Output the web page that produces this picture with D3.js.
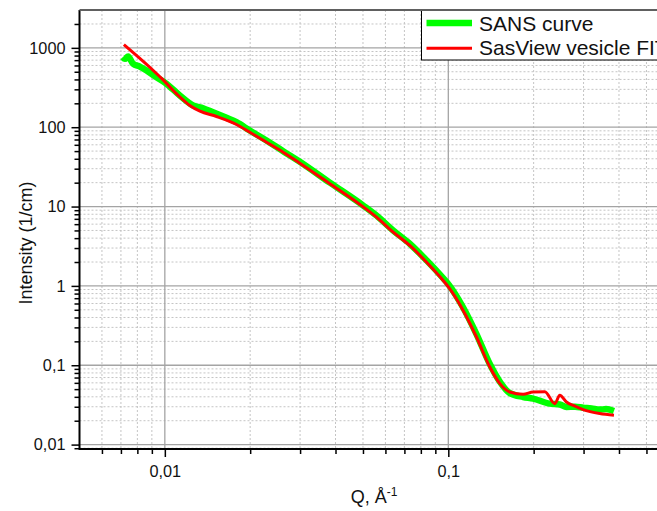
<!DOCTYPE html>
<html>
<head>
<meta charset="utf-8">
<script src="https://cdn.jsdelivr.net/npm/d3@7"></script>
<style>
  html, body { margin: 0; padding: 0; background: #fff; }
  svg { display: block; font-family: Arial, "Liberation Sans", sans-serif; }
</style>
</head>
<body>
<svg id="chart" width="657" height="511"></svg>
<script>
// ---- data ----
const sansQ = [0.0071, 0.00723, 0.00742, 0.00773, 0.00816, 0.00862, 0.00935, 0.01014, 0.01129, 0.01258, 0.01365, 0.0148, 0.01651, 0.0179, 0.01994, 0.02284, 0.02614, 0.02994, 0.0382, 0.0501, 0.0558, 0.0639, 0.0731, 0.0838, 0.0959, 0.1005, 0.1128, 0.1257, 0.1401, 0.152, 0.1648, 0.1836, 0.199, 0.2278, 0.2473, 0.261, 0.28, 0.299, 0.32, 0.342, 0.36, 0.384];
const sansI = [760, 727, 777, 629, 581, 518, 426, 352, 251, 187.7, 173.5, 154.5, 131.3, 115.6, 90.8, 68, 49.9, 36.7, 20, 10.3, 7.7, 5.0, 3.4, 2.1, 1.25, 1.03, 0.535, 0.247, 0.1034, 0.062, 0.0445, 0.0398, 0.038, 0.0328, 0.032, 0.0298, 0.030, 0.0292, 0.0285, 0.0276, 0.028, 0.0265];

const fitQ = [0.00717, 0.00885, 0.00986, 0.0110, 0.01225, 0.0133, 0.01522, 0.0179, 0.01994, 0.02284, 0.02614, 0.02994, 0.0382, 0.0501, 0.0558, 0.0639, 0.0731, 0.0838, 0.0959, 0.1005, 0.1128, 0.1257, 0.1401, 0.152, 0.1648, 0.1836, 0.199, 0.219, 0.2375, 0.2473, 0.261, 0.28, 0.299, 0.342, 0.384];
const fitI = [1101, 570, 395, 263, 187.7, 159, 136.4, 108.1, 86.5, 64.7, 48.4, 35.2, 19.4, 9.9, 7.35, 4.76, 3.24, 1.99, 1.17, 0.95, 0.491, 0.227, 0.0949, 0.0586, 0.046, 0.043, 0.046, 0.0465, 0.0328, 0.0418, 0.0344, 0.0305, 0.0276, 0.0246, 0.0234];

const seriesNames = ["SANS curve", "SasView vesicle FIT"];
const xTickValues = [0.01, 0.1];
const xTickLabels = ["0,01", "0,1"];
const yTickValues = [0.01, 0.1, 1, 10, 100, 1000];
const yTickLabels = ["0,01", "0,1", "1", "10", "100", "1000"];
const xTitle = "Q, Å";
const xTitleSup = "-1";
const yTitle = "Intensity (1/cm)";

// ---- layout ----
const svg = d3.select("#chart");
const pLeft = 79.5, pRight = 668.9, pTop = 10, pBottom = 449;

const x = d3.scaleLog().domain([0.005, 0.6]).range([pLeft, pRight]);
const y = d3.scaleLog().domain([0.0088, 3000]).range([pBottom, pTop]);

// minor tick values
function minors(lo, hi) {
  const out = [];
  for (let d = Math.floor(Math.log10(lo)); d <= Math.ceil(Math.log10(hi)); d++) {
    for (let m = 2; m <= 9; m++) {
      const v = m * Math.pow(10, d);
      if (v > lo * 1.0001 && v < hi * 0.9999) out.push(+v.toPrecision(6));
    }
  }
  return out;
}
const xMinor = minors(0.005, 0.6);
const yMinor = minors(0.0088, 3000);

const g = svg.append("g");

// minor grid
g.append("g").selectAll("line").data(xMinor).join("line")
  .attr("x1", d => x(d)).attr("x2", d => x(d))
  .attr("y1", pTop).attr("y2", pBottom)
  .attr("stroke", "#c4c4c4").attr("stroke-width", 1).attr("stroke-dasharray", "2,2");
g.append("g").selectAll("line").data(yMinor).join("line")
  .attr("x1", pLeft).attr("x2", 657)
  .attr("y1", d => y(d)).attr("y2", d => y(d))
  .attr("stroke", "#c4c4c4").attr("stroke-width", 1).attr("stroke-dasharray", "2,2");

// major grid
g.append("g").selectAll("line").data(xTickValues).join("line")
  .attr("x1", d => x(d)).attr("x2", d => x(d))
  .attr("y1", pTop).attr("y2", pBottom)
  .attr("stroke", "#a4a4a4").attr("stroke-width", 1.3);
g.append("g").selectAll("line").data(yTickValues).join("line")
  .attr("x1", pLeft).attr("x2", 657)
  .attr("y1", d => y(d)).attr("y2", d => y(d))
  .attr("stroke", "#a4a4a4").attr("stroke-width", 1.3);

// curves
const sansData = sansQ.map((q, i) => [q, sansI[i]]);
const fitData = fitQ.map((q, i) => [q, fitI[i]]);
const line = d3.line().x(d => x(d[0])).y(d => y(d[1])).curve(d3.curveMonotoneX);

g.append("path").datum(sansData).attr("d", line)
  .attr("fill", "none").attr("stroke", "#00ff00").attr("stroke-width", 6.5)
  .attr("stroke-linejoin", "round").attr("stroke-linecap", "butt");
g.append("path").datum(fitData).attr("d", line)
  .attr("fill", "none").attr("stroke", "#ff0000").attr("stroke-width", 3)
  .attr("stroke-linejoin", "round").attr("stroke-linecap", "butt");

// axes
const xAxisG = svg.append("g").attr("transform", `translate(0,${pBottom})`);
xAxisG.append("g").call(d3.axisBottom(x).tickValues(xMinor).tickFormat("").tickSize(5).tickSizeOuter(0));
xAxisG.append("g").call(d3.axisBottom(x).tickValues(xTickValues).tickFormat((d, i) => xTickLabels[i]).tickSize(8).tickSizeOuter(0).tickPadding(8));
xAxisG.selectAll(".domain").remove();
xAxisG.selectAll("line").attr("stroke", "#000").attr("stroke-width", 1.5);
xAxisG.selectAll("text").attr("font-size", 16.3).attr("fill", "#111").attr("font-family", "Arial, 'Liberation Sans', sans-serif");

const yAxisG = svg.append("g").attr("transform", `translate(${pLeft},0)`);
yAxisG.append("g").call(d3.axisLeft(y).tickValues(yMinor).tickFormat("").tickSize(5).tickSizeOuter(0));
yAxisG.append("g").call(d3.axisLeft(y).tickValues(yTickValues).tickFormat((d, i) => yTickLabels[i]).tickSize(8).tickSizeOuter(0).tickPadding(6));
yAxisG.selectAll(".domain").remove();
yAxisG.selectAll("line").attr("stroke", "#000").attr("stroke-width", 1.5);
yAxisG.selectAll("text").attr("font-size", 16.3).attr("fill", "#111").attr("font-family", "Arial, 'Liberation Sans', sans-serif");

// axis lines
svg.append("line").attr("x1", pLeft).attr("x2", 657).attr("y1", pBottom).attr("y2", pBottom)
  .attr("stroke", "#000").attr("stroke-width", 2);
svg.append("line").attr("x1", pLeft).attr("x2", pLeft).attr("y1", pTop).attr("y2", pBottom + 1)
  .attr("stroke", "#000").attr("stroke-width", 2);

// legend
const lg = svg.append("g");
lg.append("rect").attr("x", 421.5).attr("y", pTop).attr("width", 300).attr("height", 50)
  .attr("fill", "#fff").attr("stroke", "#000").attr("stroke-width", 1);
lg.append("line").attr("x1", 426.5).attr("x2", 472).attr("y1", 23).attr("y2", 23)
  .attr("stroke", "#00ff00").attr("stroke-width", 6.5);
lg.append("line").attr("x1", 426.5).attr("x2", 472).attr("y1", 48.3).attr("y2", 48.3)
  .attr("stroke", "#ff0000").attr("stroke-width", 3);
lg.append("text").attr("x", 479).attr("y", 30.7).attr("font-size", 21).attr("fill", "#111").text(seriesNames[0]);
lg.append("text").attr("x", 479).attr("y", 55).attr("font-size", 21).attr("fill", "#111").text(seriesNames[1]);

// top frame
svg.append("line").attr("x1", pLeft).attr("x2", 657).attr("y1", pTop).attr("y2", pTop)
  .attr("stroke", "#606060").attr("stroke-width", 1.8);

// axis titles
const xt = svg.append("text").attr("x", (pLeft + pRight) / 2).attr("y", 502.5)
  .attr("text-anchor", "middle").attr("font-size", 18).attr("fill", "#111");
xt.append("tspan").text(xTitle);
xt.append("tspan").attr("font-size", 12).attr("dy", -7).text(xTitleSup);

svg.append("text").attr("transform", "translate(31.5,243) rotate(-90)")
  .attr("text-anchor", "middle").attr("font-size", 18).attr("fill", "#111").text(yTitle);
</script>
</body>
</html>
